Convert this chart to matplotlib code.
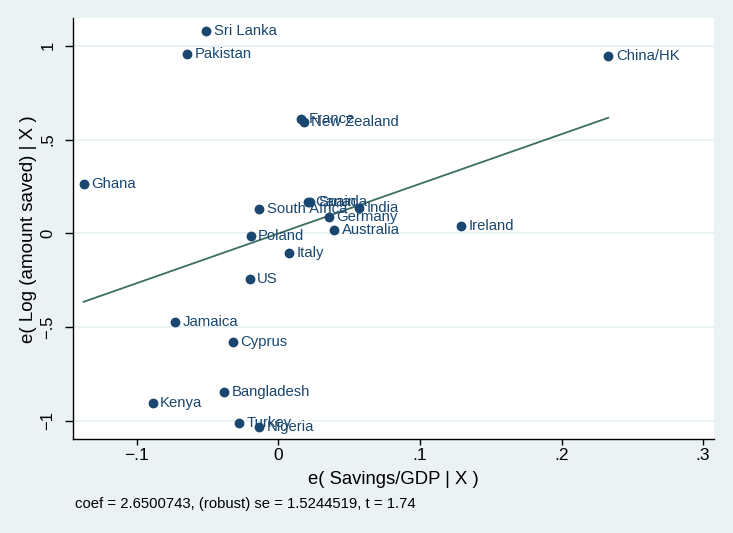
import matplotlib.pyplot as plt
import numpy as np

paises = ["Sri Lanka", "Pakistan", "China/HK", "France", "New Zealand", "Ghana",
          "Canada", "Spain", "India", "South Africa", "Germany", "Australia",
          "Ireland", "Poland", "Italy", "US", "Jamaica", "Cyprus", "Bangladesh",
          "Kenya", "Turkey", "Nigeria"]
ahorro_pib = [-0.0508, -0.0643, 0.2330, 0.0162, 0.0179, -0.1375,
              0.0207, 0.0226, 0.0567, -0.0136, 0.0358, 0.0393,
              0.1288, -0.0196, 0.0075, -0.0203, -0.0732, -0.0320, -0.0386,
              -0.0888, -0.0278, -0.0139]
log_ahorro = [1.081, 0.955, 0.945, 0.608, 0.596, 0.262,
              0.168, 0.168, 0.133, 0.128, 0.087, 0.016,
              0.040, -0.016, -0.105, -0.243, -0.472, -0.582, -0.849,
              -0.904, -1.014, -1.034]
coef = 2.6500743
se_robusta = 1.5244519
t_val = 1.74
xticks = [-0.1, 0, 0.1, 0.2, 0.3]
xtick_labels = ["\u2212.1", "0", ".1", ".2", ".3"]
yticks = [-1, -0.5, 0, 0.5, 1]
ytick_labels = ["\u22121", "\u2212.5", "0", ".5", "1"]

plt.rcParams['font.family'] = ["Liberation Sans", "DejaVu Sans"]

fondo = "#eaf2f3"
azul = "#1a476f"

fig = plt.figure(figsize=(7.33, 5.33), dpi=100, facecolor=fondo)
ax = fig.add_axes([0.0992, 0.1758, 0.8749, 0.7899])
ax.set_facecolor("white")

x = np.array(ahorro_pib)
y = np.array(log_ahorro)
b0 = y.mean() - coef * x.mean()
xl = np.array([x.min(), x.max()])

for yt in yticks:
    ax.axhline(yt, color=fondo, lw=1.5, zorder=0)

ax.plot(xl, b0 + coef * xl, color="#3b6e5f", lw=1.3, zorder=2)
ax.scatter(x, y, s=50, color=azul, zorder=3, linewidths=0)
for nombre, xi, yi in zip(paises, x, y):
    ax.annotate(nombre, (xi, yi), xytext=(5.5, 0), textcoords="offset points",
                va="center", ha="left", fontsize=10.7, color=azul, zorder=4)

ax.set_xlim(-0.1452, 0.3077)
ax.set_ylim(-1.099, 1.147)
ax.set_xticks(xticks)
ax.set_xticklabels(xtick_labels, fontsize=12.5)
ax.set_yticks(yticks)
ax.set_yticklabels(ytick_labels, fontsize=12, rotation=90, va="center")
ax.tick_params(axis="x", direction="out", length=4.5, width=1, color="black", pad=2)
ax.tick_params(axis="y", direction="out", length=5.5, width=1, color="black", pad=7)

for lado in ["top", "right"]:
    ax.spines[lado].set_visible(False)
for lado in ["left", "bottom"]:
    ax.spines[lado].set_color("black")
    ax.spines[lado].set_linewidth(1)

ax.set_xlabel("e( Savings/GDP | X )", fontsize=13.3)
ax.xaxis.set_label_coords(0.5, -0.1069)
ax.xaxis.label.set_va("baseline")
ax.set_ylabel("e( Log (amount saved) | X )", fontsize=13.5)
ax.yaxis.set_label_coords(-0.0697, 0.5)
ax.yaxis.label.set_va("center")

fig.text(0.1023, 0.0469,
         "coef = %.7f, (robust) se = %.7f, t = %.2f" % (coef, se_robusta, t_val),
         fontsize=10.7, color="black", va="baseline", ha="left")

fig.savefig("out.png", dpi=100, facecolor=fondo)
